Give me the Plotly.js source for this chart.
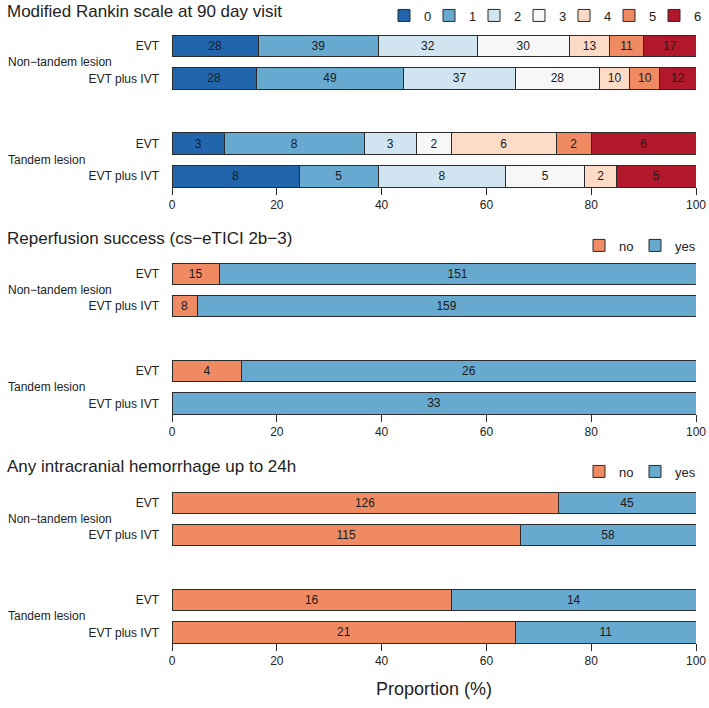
<!DOCTYPE html>
<html>
<head>
<meta charset="utf-8">
<script src="https://cdn.plot.ly/plotly-3.0.1.min.js"></script>
<style>html,body{margin:0;padding:0;background:#fff;}#chart{width:709px;height:708px;}</style>
</head>
<body>
<div id="chart"></div>
<script>
// ---- data (counts) ----
const rowLabels = ["EVT", "EVT plus IVT", "EVT", "EVT plus IVT"];
const groupLabels = ["Non\u2212tandem lesion", "Tandem lesion"];
const rowPos = [0, 1, 3, 4];
const groupPos = [0.5, 3.5];

const mrsCategories = ["0", "1", "2", "3", "4", "5", "6"];
const mrs0 = [28, 28, 3, 8];
const mrs1 = [39, 49, 8, 5];
const mrs2 = [32, 37, 3, 8];
const mrs3 = [30, 28, 2, 5];
const mrs4 = [13, 10, 6, 2];
const mrs5 = [11, 10, 2, 0];
const mrs6 = [17, 12, 6, 5];

const binCategories = ["no", "yes"];
const reperfNo  = [15, 8, 4, 0];
const reperfYes = [151, 159, 26, 33];
const ichNo  = [126, 115, 16, 21];
const ichYes = [45, 58, 14, 11];

const xTicks = [0, 20, 40, 60, 80, 100];

const panelTitles = [
  "Modified Rankin scale at 90 day visit",
  "Reperfusion success (cs\u2212eTICI 2b\u22123)",
  "Any intracranial hemorrhage up to 24h"
];

// ---- style ----
const mrsColors = ["#2166AC", "#67A9CF", "#D1E5F0", "#F7F7F7", "#FDDBC7", "#EF8A62", "#B2182B"];
const binColors = ["#EF8A62", "#67A9CF"];
const FONT = "Liberation Sans, Arial, Helvetica, sans-serif";
const W = 709, H = 708;
const py = p => 1 - p / H;
const panelsPx = [
  {top: 35, bot: 187, title: 12, legend: 15.5, legX: 709},
  {top: 263, bot: 414, title: 238, legend: 245.5, legX: 702},
  {top: 492, bot: 643, title: 466, legend: 471.5, legX: 702}
];
const xDom = [172 / W, 696 / W];
const barW = 0.66;

// legend entry widths (px): spacing in the original is tighter than text width
const panelsData = [
  {cats: mrsCategories, series: [mrs0, mrs1, mrs2, mrs3, mrs4, mrs5, mrs6], colors: mrsColors, entryW: [0.001, 0.001, 0.001, 0.001, 0.001, 0.001, 9]},
  {cats: binCategories, series: [reperfNo, reperfYes], colors: binColors, entryW: [11, 22]},
  {cats: binCategories, series: [ichNo, ichYes], colors: binColors, entryW: [11, 22]}
];

const traces = [];
const layout = {
  width: W, height: H, autosize: false,
  margin: {l: 0, r: 0, t: 0, b: 0},
  paper_bgcolor: "#fff", plot_bgcolor: "#fff",
  barmode: "stack", bargap: 0,
  font: {family: FONT, size: 12, color: "#222"},
  showlegend: true,
  annotations: []
};

panelsData.forEach((pd, pi) => {
  const sfx = pi === 0 ? "" : String(pi + 1);
  const totals = rowPos.map((_, r) => pd.series.reduce((s, a) => s + a[r], 0));
  const legName = "legend" + sfx;
  pd.series.forEach((vals, ci) => {
    traces.push({
      type: "bar", orientation: "h",
      x: vals.map((v, r) => v / totals[r] * 100),
      y: rowPos,
      width: barW,
      name: pd.cats[ci],
      text: vals.map(v => v > 0 ? String(v) : ""),
      textposition: "inside", insidetextanchor: "middle", textangle: 0,
      constraintext: "none",
      textfont: {family: FONT, size: 12, color: "#1a1a1a"},
      marker: {color: pd.colors[ci], line: {color: "#2b2b2b", width: 1}},
      xaxis: "x" + sfx, yaxis: "y" + sfx,
      legend: legName, legendwidth: pd.entryW[ci],
      hoverinfo: "skip"
    });
  });
  const p = panelsPx[pi];
  const yd = [py(p.bot), py(p.top)];
  layout["xaxis" + sfx] = {
    domain: xDom, anchor: "y" + sfx, range: [0, 100],
    tickvals: xTicks, ticktext: xTicks.map(String),
    ticks: "outside", ticklen: 7, tickcolor: "#2b2b2b", tickwidth: 1,
    showline: true, linecolor: "#2b2b2b", linewidth: 1,
    showgrid: false, zeroline: false, fixedrange: true,
    tickfont: {family: FONT, size: 12, color: "#222"}
  };
  layout["yaxis" + sfx] = {
    domain: yd, anchor: "x" + sfx,
    range: [4 + barW / 2, -barW / 2],
    tickvals: rowPos, ticktext: rowLabels,
    ticks: "", ticklabelstandoff: 12,
    showline: false, showgrid: false, zeroline: false, fixedrange: true,
    tickfont: {family: FONT, size: 12, color: "#222"}
  };
  layout[legName] = {
    orientation: "h", xanchor: "right", x: p.legX / W,
    yanchor: "middle", y: py(p.legend),
    traceorder: "normal",
    entrywidthmode: "pixels",
    itemwidth: 30, itemclick: false, itemdoubleclick: false,
    font: {family: FONT, size: 13, color: "#222"},
    bgcolor: "rgba(0,0,0,0)"
  };
  layout.annotations.push({
    xref: "paper", yref: "paper", x: 5 / W, y: py(p.title),
    xanchor: "left", yanchor: "middle", showarrow: false,
    text: panelTitles[pi], font: {family: FONT, size: 17, color: "#222"}
  });
  groupLabels.forEach((g, gi) => {
    layout.annotations.push({
      xref: "paper", yref: "y" + sfx, x: 6 / W, y: groupPos[gi],
      xanchor: "left", yanchor: "middle", showarrow: false,
      text: g, font: {family: FONT, size: 12, color: "#222"}
    });
  });
});

layout.xaxis3.title = {text: "Proportion (%)", font: {family: FONT, size: 18, color: "#222"}, standoff: 14};

Plotly.newPlot("chart", traces, layout, {staticPlot: true, displayModeBar: false});
</script>
</body>
</html>
